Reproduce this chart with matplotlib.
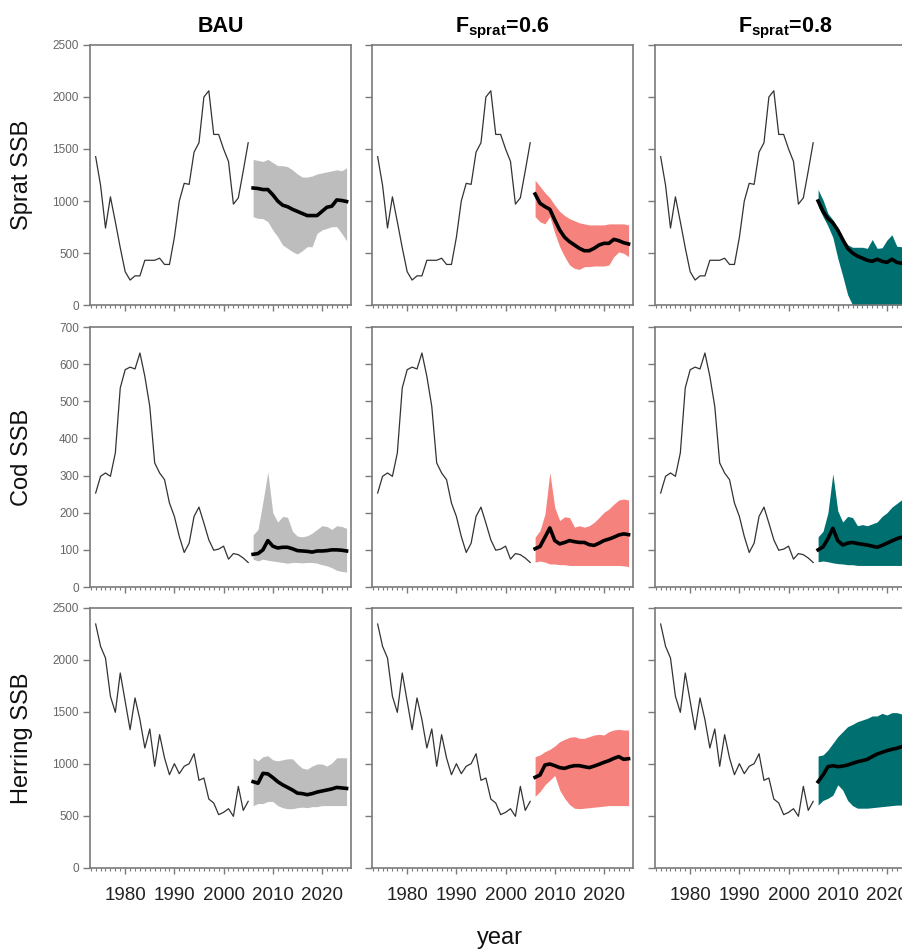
import numpy as np
import matplotlib
matplotlib.use("Agg")
import matplotlib.pyplot as plt
from matplotlib.ticker import MultipleLocator

plt.rcParams['font.family'] = ['Liberation Sans', 'DejaVu Sans']
plt.rcParams['mathtext.fontset'] = 'custom'
plt.rcParams['mathtext.rm'] = 'Liberation Sans'
plt.rcParams['mathtext.bf'] = 'Liberation Sans:bold'

# anos
years_hist = np.arange(1974, 2006)
years_proj = np.arange(2006, 2026)

# serie historica (igual nas 3 colunas)
sprat_hist = [1426, 1150, 740, 1040, 800, 550, 320, 240, 280, 280, 430, 430, 430, 450, 390, 390,
              650, 1000, 1170, 1160, 1470, 1560, 2000, 2060, 1640, 1640, 1500, 1380, 970, 1030, 1290, 1560]
cod_hist = [253, 298, 307, 298, 361, 536, 585, 592, 587, 630, 567, 486, 334, 307, 289, 226,
            190, 136, 93, 118, 190, 215, 172, 127, 99, 102, 110, 75, 90, 87, 78, 66]
herring_hist = [2346, 2131, 2019, 1651, 1497, 1875, 1603, 1330, 1635, 1426, 1154, 1337, 978, 1282, 1058, 897,
                1003, 907, 978, 1003, 1099, 843, 865, 663, 625, 513, 535, 570, 497, 785, 554, 641]

# projecoes: mediana, limite superior, limite inferior
# BAU
sprat_bau_med = [1125, 1120, 1110, 1110, 1060, 1000, 960, 945, 920, 900, 880, 860, 860, 860, 900, 940, 950, 1010, 1005, 995]
sprat_bau_hi = [1400, 1390, 1380, 1400, 1370, 1340, 1340, 1330, 1300, 1260, 1230, 1230, 1240, 1260, 1270, 1280, 1290, 1300, 1290, 1320]
sprat_bau_lo = [849, 833, 830, 801, 721, 657, 577, 545, 513, 490, 522, 561, 561, 689, 721, 737, 753, 753, 689, 619]
cod_bau_med = [88, 90, 100, 125, 110, 105, 107, 107, 103, 98, 97, 96, 94, 97, 97, 98, 100, 100, 99, 97]
cod_bau_hi = [140, 155, 230, 310, 200, 175, 190, 188, 150, 137, 135, 138, 145, 155, 165, 163, 155, 165, 163, 158]
cod_bau_lo = [75, 70, 75, 72, 70, 68, 66, 64, 66, 66, 65, 66, 66, 64, 60, 57, 52, 45, 42, 40]
herring_bau_med = [830, 815, 910, 905, 870, 830, 800, 775, 750, 720, 715, 705, 715, 730, 740, 750, 760, 775, 770, 765]
herring_bau_hi = [1060, 1030, 1070, 1080, 1040, 1030, 1040, 1050, 1050, 1000, 960, 950, 980, 1000, 1000, 980, 1010, 1060, 1060, 1060]
herring_bau_lo = [600, 620, 620, 640, 640, 600, 580, 570, 570, 580, 585, 580, 590, 590, 600, 600, 600, 600, 600, 600]

# F sprat = 0.6
sprat_f06_med = [1067, 978, 946, 920, 817, 721, 651, 609, 577, 545, 522, 522, 545, 577, 593, 593, 631, 619, 599, 587]
sprat_f06_hi = [1200, 1140, 1080, 1030, 960, 900, 860, 830, 810, 790, 780, 770, 770, 770, 770, 780, 780, 780, 780, 770]
sprat_f06_lo = [850, 800, 780, 850, 690, 560, 465, 385, 352, 343, 369, 369, 375, 375, 375, 385, 465, 510, 497, 465]
cod_f06_med = [103, 109, 134, 159, 125, 116, 120, 125, 122, 120, 120, 114, 112, 118, 125, 129, 134, 140, 143, 141]
cod_f06_hi = [134, 152, 196, 308, 214, 179, 189, 187, 161, 165, 161, 165, 174, 187, 201, 210, 223, 234, 237, 234]
cod_f06_lo = [67, 70, 67, 62, 62, 60, 60, 58, 58, 58, 58, 58, 58, 58, 58, 58, 58, 58, 57, 55]
herring_f06_med = [872, 894, 990, 1000, 984, 965, 958, 974, 984, 984, 974, 965, 980, 997, 1016, 1032, 1054, 1071, 1045, 1051]
herring_f06_hi = [1071, 1087, 1119, 1141, 1173, 1215, 1237, 1256, 1263, 1247, 1247, 1263, 1279, 1285, 1279, 1311, 1327, 1333, 1327, 1327]
herring_f06_lo = [690, 735, 800, 845, 890, 750, 670, 610, 575, 570, 575, 580, 585, 590, 595, 600, 600, 600, 600, 600]

# F sprat = 0.8
sprat_f08_med = [1000, 900, 830, 790, 720, 630, 545, 500, 470, 450, 430, 420, 440, 420, 410, 440, 410, 400, 390, 380]
sprat_f08_hi = [1110, 1010, 880, 820, 720, 640, 580, 555, 555, 555, 545, 630, 545, 550, 625, 675, 565, 560, 580, 600]
sprat_f08_lo = [950, 850, 760, 650, 450, 280, 100, 0, 0, 0, 0, 0, 0, 0, 0, 0, 0, 0, 0, 0]
cod_f08_med = [100, 108, 130, 158, 125, 113, 118, 120, 117, 115, 113, 110, 107, 112, 118, 124, 130, 134, 136, 137]
cod_f08_hi = [135, 150, 200, 305, 205, 175, 190, 187, 165, 168, 165, 170, 175, 190, 200, 215, 225, 235, 238, 236]
cod_f08_lo = [68, 70, 68, 65, 63, 62, 60, 60, 58, 58, 58, 58, 58, 58, 58, 58, 58, 58, 57, 56]
herring_f08_med = [830, 894, 974, 984, 974, 980, 990, 1006, 1022, 1032, 1045, 1071, 1096, 1112, 1128, 1141, 1151, 1167, 1170, 1175]
herring_f08_hi = [1077, 1087, 1135, 1199, 1263, 1311, 1359, 1381, 1407, 1423, 1439, 1462, 1462, 1487, 1471, 1494, 1494, 1481, 1480, 1480]
herring_f08_lo = [605, 650, 670, 700, 800, 750, 650, 600, 575, 575, 575, 580, 585, 590, 595, 600, 605, 605, 605, 605]

cenarios = ['BAU', r'F$_\mathbf{sprat}$=0.6', r'F$_\mathbf{sprat}$=0.8']
cores = ['#bdbdbd', '#f5827c', '#006f70']
especies = ['Sprat SSB', 'Cod SSB', 'Herring SSB']
historicos = [sprat_hist, cod_hist, herring_hist]
ylims = [2500, 700, 2500]
ysteps = [500, 100, 500]

projecoes = [
    [(sprat_bau_med, sprat_bau_hi, sprat_bau_lo), (sprat_f06_med, sprat_f06_hi, sprat_f06_lo), (sprat_f08_med, sprat_f08_hi, sprat_f08_lo)],
    [(cod_bau_med, cod_bau_hi, cod_bau_lo), (cod_f06_med, cod_f06_hi, cod_f06_lo), (cod_f08_med, cod_f08_hi, cod_f08_lo)],
    [(herring_bau_med, herring_bau_hi, herring_bau_lo), (herring_f06_med, herring_f06_hi, herring_f06_lo), (herring_f08_med, herring_f08_hi, herring_f08_lo)],
]

fig = plt.figure(figsize=(9.03, 9.51), dpi=100)

lefts = [90 / 903, 372 / 903, 655 / 903]
bottoms = [1 - 305 / 951, 1 - 587 / 951, 1 - 868 / 951]
w = 261 / 903
h = 260 / 951
spine_cor = '#7a7a7a'

for i in range(3):
    for j in range(3):
        ax = fig.add_axes([lefts[j], bottoms[i], w, h])
        med, hi, lo = projecoes[i][j]
        ax.fill_between(years_proj, lo, hi, color=cores[j], lw=0, zorder=1)
        ax.plot(years_hist, historicos[i], color='#333333', lw=0.9, zorder=2)
        ax.plot(years_proj, med, color='black', lw=2.6, zorder=3)

        ax.set_xlim(1972.85, 2025.9)
        ax.set_ylim(0, ylims[i])
        ax.yaxis.set_major_locator(MultipleLocator(ysteps[i]))
        ax.xaxis.set_major_locator(MultipleLocator(10))
        ax.xaxis.set_minor_locator(MultipleLocator(1))

        for s in ax.spines.values():
            s.set_color(spine_cor)
            s.set_linewidth(1.2)

        ax.tick_params(axis='y', which='major', direction='out', length=5, width=1,
                       color=spine_cor, labelsize=8.5, labelcolor='#666666', pad=3,
                       labelleft=(j == 0))
        ax.tick_params(axis='x', which='major', direction='out', length=4, width=1,
                       color=spine_cor, labelsize=13.5, labelcolor='#222222', pad=10,
                       labelbottom=(i == 2))
        ax.tick_params(axis='x', which='minor', direction='out', length=2.2, width=0.8,
                       color=spine_cor)

        if i == 0:
            ax.set_title(cenarios[j], fontsize=15.5, fontweight='bold', pad=9)
        if j == 0:
            ax.set_ylabel(especies[i], fontsize=17, color='#111111')
            ax.yaxis.set_label_coords(-0.22, 0.5)

fig.text(500 / 903, 1 - 938 / 951, 'year', fontsize=17, ha='center', va='center', color='#111111')

fig.savefig('out.png', dpi=100)
